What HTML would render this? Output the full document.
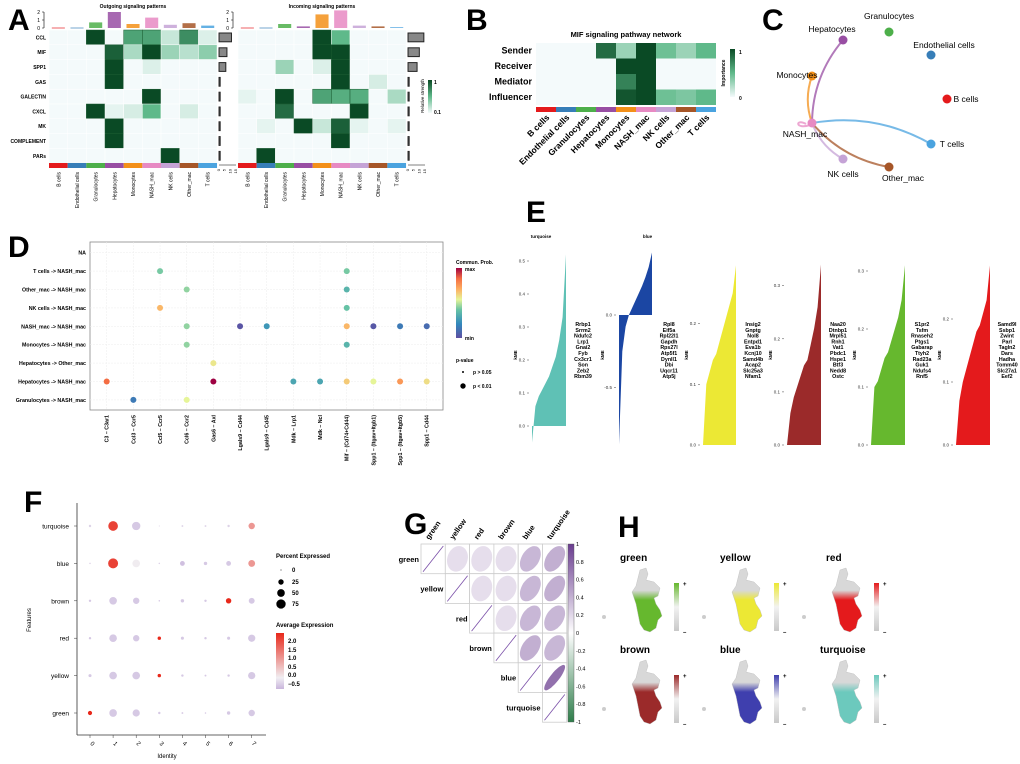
<!DOCTYPE html>
<html><head><meta charset="utf-8"><style>
html,body{margin:0;padding:0;background:#fff}
svg{display:block;font-family:"Liberation Sans",sans-serif}
</style></head><body>
<svg id="fig" width="1020" height="764" viewBox="0 0 1020 764" xmlns="http://www.w3.org/2000/svg">
<defs>
<linearGradient id="gA" x1="0" y1="1" x2="0" y2="0"><stop offset="0" stop-color="#f4fafb"/><stop offset="0.5" stop-color="#5fb98a"/><stop offset="1" stop-color="#0a4a25"/></linearGradient>
<linearGradient id="gSpec" x1="0" y1="1" x2="0" y2="0"><stop offset="0" stop-color="#5e4fa2"/><stop offset="0.2" stop-color="#3288bd"/><stop offset="0.4" stop-color="#66c2a5"/><stop offset="0.55" stop-color="#e6f598"/><stop offset="0.7" stop-color="#fdae61"/><stop offset="0.85" stop-color="#f46d43"/><stop offset="1" stop-color="#9e0142"/></linearGradient>
<linearGradient id="gF" x1="0" y1="1" x2="0" y2="0"><stop offset="0" stop-color="#c9b6dc"/><stop offset="0.2" stop-color="#f0eef2"/><stop offset="1" stop-color="#e8281a"/></linearGradient>
<linearGradient id="gG" x1="0" y1="1" x2="0" y2="0"><stop offset="0" stop-color="#2e7d4a"/><stop offset="0.5" stop-color="#ffffff"/><stop offset="1" stop-color="#6a3d8f"/></linearGradient>
</defs>
</svg>
<script>
// ---------- data ----------
const cellTypes=['B cells','Endothelial cells','Granulocytes','Hepatocytes','Monocytes','NASH_mac','NK cells','Other_mac','T cells'];
const cellColors=['#e41a1c','#377eb8','#4daf4a','#984ea3','#f39019','#e78ac3','#c5a3d6','#a65628','#4aa3df'];
const pathways=['CCL','MIF','SPP1','GAS','GALECTIN','CXCL','MK','COMPLEMENT','PARs'];
const outMat=[[0,0,1,0,.6,.6,.15,.7,.08],[0,0,0,.9,.25,1,.3,.2,.35],[0,0,0,1,0,.08,0,0,0],[0,0,0,1,0,0,0,0,0],[0,0,0,0,0,1,0,0,0],[0,0,1,.05,.1,.5,0,.1,0],[0,0,0,1,0,0,0,0,0],[0,0,0,1,0,0,0,0,0],[0,0,0,0,0,0,1,0,0]];
const inMat=[[0,0,0,0,1,.5,0,0,0],[0,0,0,0,1,1,0,0,0],[0,0,.3,0,.08,1,0,0,0],[0,0,0,0,0,1,0,.1,0],[.05,0,1,0,.6,.55,.55,0,.25],[0,0,.85,0,0,0,1,0,0],[0,.05,0,1,.15,.9,.05,0,.05],[0,0,0,0,0,1,0,0,0],[0,1,0,0,0,0,0,0,0]];
const outTop=[.05,.05,.7,2,.5,1.3,.4,.6,.3];
const inTop=[.05,.05,.5,.2,1.7,2.2,.3,.2,.1];
const outSide=[11,7,6,1,1,1,1,1,1];
const inSide=[14,10,8,1,1,1,1,1,1];
const rolesB=['Sender','Receiver','Mediator','Influencer'];
const matB=[[0,0,0,.85,.3,1,.45,.3,.5],[0,0,0,0,1,1,0,0,0],[0,0,0,0,.75,1,0,0,0],[0,0,0,0,.95,1,.45,.4,.5]];
const edgeSourcesC=['Hepatocytes','Monocytes','NK cells','Other_mac','T cells','NASH_mac'];
const edgeBendC=[1,1,-1,-1,1,0];
const rowsD=['NA','T cells -> NASH_mac','Other_mac -> NASH_mac','NK cells -> NASH_mac','NASH_mac -> NASH_mac','Monocytes -> NASH_mac','Hepatocytes -> Other_mac','Hepatocytes -> NASH_mac','Granulocytes -> NASH_mac'];
const colsD=['C3 \u2013 C3ar1','Ccl3 \u2013 Ccr5','Ccl5 \u2013 Ccr5','Ccl6 \u2013 Ccr2','Gas6 \u2013 Axl','Lgals9 \u2013 Cd44','Lgals9 \u2013 Cd45','Mdk \u2013 Lrp1','Mdk \u2013 Ncl','Mif \u2013 (Cd74+Cd44)','Spp1 \u2013 (Itgav+Itgb1)','Spp1 \u2013 (Itgav+Itgb5)','Spp1 \u2013 Cd44'];
const ptRow=[1,1,2,2,3,3,4,4,4,4,4,4,4,5,5,6,7,7,7,7,7,7,7,7,8,8];
const ptCol=[2,9,3,9,2,9,3,5,6,9,10,11,12,3,9,4,0,4,7,8,9,10,11,12,1,3];
const ptProb=[.42,.42,.45,.35,.68,.4,.45,.02,.25,.68,.03,.15,.1,.45,.35,.58,.85,1,.3,.3,.64,.55,.75,.6,.15,.55];
const modulesE=['turquoise','blue','yellow','brown','green','red'];
const colorsE=['#5fc1b5','#1b46a3','#ece834','#9b2a2a','#66b82e','#e41a1c'];
const kmeTurquoise=[-0.05,0.06,0.09,0.11,0.13,0.15,0.18,0.21,0.26,0.33,0.52];
const kmeBlue=[-0.89,-0.25,-0.08,0.0,0.05,0.1,0.15,0.2,0.26,0.33,0.43];
const kmeYellow=[0,0.1,0.12,0.14,0.15,0.17,0.19,0.21,0.23,0.25,0.296];
const kmeBrown=[0,0.06,0.09,0.11,0.13,0.15,0.16,0.19,0.22,0.26,0.34];
const kmeGreen=[0,0.1,0.11,0.13,0.15,0.16,0.18,0.2,0.22,0.25,0.31];
const kmeRed=[0,0.07,0.1,0.12,0.14,0.16,0.18,0.19,0.21,0.23,0.285];
const genesE=[['Rrbp1','Srrm2','Ndufc2','Lrp1','Gnai2','Fyb','Cx3cr1','Son','Zeb2','Rbm39'],['Rpl8','Eif5a','Rpl22l1','Gapdh','Rps27l','Atp5f1','Dynll1','Dbi','Uqcr11','Atp5j'],['Insig2','Gnptg','Nol8','Entpd1','Eva1b','Kcnj10','Samd4b','Acap2','Slc25a3','Nfam1'],['Naa20','Dtnbp1','Mrpl51','Rnh1','Vat1','Pbdc1','Hspe1','Btf3','Nedd8','Ostc'],['S1pr2','Tsfm','Rnaseh2','Ptgs1','Gabarap','Ttyh2','Rad23a','Guk1','Ndufs4','Rnf5'],['Samd9l','Ssbp1','Zwint','Parl','Tagln2','Dars','Hadha','Tomm40','Slc27a1','Eef2']];
const ticksE=[[0,.1,.2,.3,.4,.5],[-0.5,0],[0,.1,.2],[0,.1,.2,.3],[0,.1,.2,.3],[0,.1,.2]];
const featuresF=['turquoise','blue','brown','red','yellow','green'];
const identF=['0','1','2','3','4','5','6','7'];
const pctF=[[5,80,60,1,3,3,5,35],[2,85,50,2,20,10,20,40],[5,50,35,2,10,5,25,30],[5,50,35,10,8,5,8,45],[8,50,50,10,5,3,5,45],[15,50,45,5,3,2,10,35]];
const avgF=[[-.3,2.0,-.4,-.3,-.3,-.3,-.3,1.0],[-.3,2.0,0.0,-.3,-.5,-.4,-.4,1.0],[-.4,-.4,-.4,-.4,-.4,-.4,2.5,-.4],[-.4,-.4,-.4,2.5,-.4,-.4,-.4,-.4],[-.4,-.4,-.4,2.5,-.4,-.4,-.4,-.4],[2.5,-.4,-.4,-.4,-.4,-.4,-.4,-.4]];
const modulesG=['green','yellow','red','brown','blue','turquoise'];
const corrG=[[1,.15,.15,.15,.4,.45],[.15,1,.15,.15,.4,.45],[.15,.15,1,.15,.4,.4],[.15,.15,.15,1,.45,.4],[.4,.4,.4,.45,1,.85],[.45,.45,.4,.4,.85,1]];
const modulesH=['green','yellow','red','brown','blue','turquoise'];
const colorsH=['#66b82e','#ece834','#e41a1c','#9b2a2a','#3f3fae','#6cc9bd'];

// ---------- helpers ----------
const NS='http://www.w3.org/2000/svg';
const svg=document.getElementById('fig');
function el(tag,attrs,parent){const e=document.createElementNS(NS,tag);for(const k in attrs)e.setAttribute(k,attrs[k]);(parent||svg).appendChild(e);return e;}
function txt(x,y,s,attrs,parent){const t=el('text',Object.assign({x:x,y:y},attrs||{}),parent);t.textContent=s;return t;}
function hex2rgb(h){return [1,3,5].map(i=>parseInt(h.substr(i,2),16));}
function interp(stops,t){t=Math.max(0,Math.min(1,t));for(let i=1;i<stops.length;i++){if(t<=stops[i][0]){const a=stops[i-1],b=stops[i];const f=(t-a[0])/(b[0]-a[0]||1);const c1=hex2rgb(a[1]),c2=hex2rgb(b[1]);return 'rgb('+c1.map((v,k)=>Math.round(v+(c2[k]-v)*f)).join(',')+')';}}return stops[stops.length-1][1];}
const greenStops=[[0,'#f4fafb'],[0.5,'#5fb98a'],[1,'#0a4a25']];
const specStops=[[0,'#5e4fa2'],[0.2,'#3288bd'],[0.4,'#66c2a5'],[0.55,'#e6f598'],[0.7,'#fdae61'],[0.85,'#f46d43'],[1,'#9e0142']];
const fStops=[[0,'#c9b6dc'],[0.2,'#f0eef2'],[1,'#e8281a']];
const purpleStops=[[0,'#ffffff'],[1,'#6a3d8f']];
function letter(x,y,s){const t=txt(x,y,s,{'font-size':30,'font-weight':'bold'});}

// ---------- Panel A ----------
letter(8,30,'A');
function heat(x0,mat,top,side,title,showRows,nm){
  const cw=18.67,rh=14.8,y0=30;
  const g=el('g',{});
  
  
  txt(x0+cw*4.5,8,title,{'font-size':5,'text-anchor':'middle','font-weight':'bold'},g);
  el('line',{x1:x0-5,y1:12,x2:x0-5,y2:28,stroke:'#000','stroke-width':0.6},g);
  [0,1,2].forEach(v=>{const yy=28-v*8;el('line',{x1:x0-7,y1:yy,x2:x0-5,y2:yy,stroke:'#000','stroke-width':0.5},g);txt(x0-9,yy+2,String(v),{'font-size':5,'text-anchor':'end'},g);});
  top.forEach((v,i)=>{const r=el('rect',{x:x0+i*cw+cw*0.15,y:28-v*8,width:cw*0.7,height:Math.max(v*8,0.8),fill:cellColors[i],opacity:0.85},g);});
  mat.forEach((row,r)=>{
    if(showRows)txt(x0-3,y0+r*rh+rh/2+2,pathways[r],{'font-size':5,'text-anchor':'end','font-weight':'bold'},g);
    row.forEach((v,c)=>{const rc=el('rect',{x:x0+c*cw,y:y0+r*rh,width:cw,height:rh,fill:interp(greenStops,v),stroke:v>0.5?'#1a5a30':'#fff','stroke-width':0.5},g);});
    const sv=side[r];const sx=x0+9*cw+2;
    const sb=el('rect',{x:sx,y:y0+r*rh+3,width:sv*1.13,height:rh-6,fill:'#888',stroke:'#222','stroke-width':1},g);
    
    
  });
  const ax=x0+9*cw+2;
  el('line',{x1:ax,y1:165,x2:ax+17,y2:165,stroke:'#000','stroke-width':0.5},g);
  [0,5,10,15].forEach(v=>{txt(ax+v*1.13+1,169,String(v),{'font-size':4,transform:'rotate(-90 '+(ax+v*1.13+1)+' 169)','text-anchor':'end'},g);});
  cellTypes.forEach((c,i)=>{el('rect',{x:x0+i*cw,y:163,width:cw,height:5,fill:cellColors[i]},g);const cx=x0+i*cw+cw/2+2;txt(cx,172,c,{'font-size':5,'text-anchor':'end',transform:'rotate(-90 '+cx+' 172)'},g);});
}
heat(49,outMat,outTop,outSide,'Outgoing signaling patterns',true,'outgoing-heatmap');
heat(238,inMat,inTop,inSide,'Incoming signaling patterns',false,'incoming-heatmap');
el('rect',{x:428,y:80,width:4,height:33,fill:'url(#gA)'});
txt(434,84,'1',{'font-size':5,'font-weight':'bold'});txt(434,114,'0.1',{'font-size':5,'font-weight':'bold'});
txt(424,96,'Relative strength',{'font-size':4.5,'text-anchor':'middle',transform:'rotate(-90 424 96)'});

// ---------- Panel B ----------
letter(466,30,'B');
txt(626,37,'MIF signaling pathway network',{'font-size':7.5,'font-weight':'bold','text-anchor':'middle'});
matB.forEach((row,r)=>{
  txt(532,43+r*15.5+10.5,rolesB[r],{'font-size':9,'font-weight':'bold','text-anchor':'end'});
  row.forEach((v,c)=>{const rc=el('rect',{x:536+c*20,y:43+r*15.5,width:20,height:15.5,fill:interp(greenStops,v)});});
});
cellTypes.forEach((c,i)=>{el('rect',{x:536+i*20,y:107,width:20,height:5,fill:cellColors[i]});const cx=536+i*20+14;txt(cx,118,c,{'font-size':8.5,'font-weight':'bold','text-anchor':'end',transform:'rotate(-45 '+cx+' 118)'});});
el('rect',{x:730,y:49,width:5,height:48,fill:'url(#gA)'});
txt(739,54,'1',{'font-size':5,'font-weight':'bold'});txt(739,100,'0',{'font-size':5,'font-weight':'bold'});
txt(725,73,'Importance',{'font-size':5,'font-weight':'bold','text-anchor':'middle',transform:'rotate(-90 725 73)'});

// ---------- Panel C ----------
letter(762,30,'C');
const nodePos={'Hepatocytes':[843,40,832,32],'Granulocytes':[889,32,889,19],'Endothelial cells':[931,55,944,48],'Monocytes':[812,76,797,78],'B cells':[947,99,966,102],'NASH_mac':[812,123,805,137],'T cells':[931,144,952,147],'NK cells':[843,159,843,177],'Other_mac':[889,167,903,181]};
edgeSourcesC.forEach((s,k)=>{
  const p=nodePos[s],t=nodePos['NASH_mac'];const col=cellColors[cellTypes.indexOf(s)];
  let d;
  if(s==='NASH_mac'){d='M806,124 C795,118 795,130 810,125';}
  else{const b=edgeBendC[k]*0.18;const mx=(p[0]+t[0])/2,my=(p[1]+t[1])/2;const dx=p[0]-t[0],dy=p[1]-t[1];d='M'+p[0]+','+p[1]+' Q'+(mx+dy*b)+','+(my-dx*b)+' '+t[0]+','+t[1];}
  const e=el('path',{d:d,fill:'none',stroke:col,'stroke-width':2,opacity:0.75});
  
  
});
cellTypes.forEach((c,i)=>{const p=nodePos[c];const n=el('circle',{cx:p[0],cy:p[1],r:4.5,fill:cellColors[i]});txt(p[2],p[3],c,{'font-size':8.5,'text-anchor':'middle'});});

// ---------- Panel D ----------
letter(8,257,'D');
const dx0=90,dy0=242,dx1=443,dy1=410;
const colX=i=>106.7+i*26.67, rowY=i=>252.7+i*18.4;
el('rect',{x:dx0,y:dy0,width:dx1-dx0,height:dy1-dy0,fill:'#fff',stroke:'#888','stroke-width':0.8});
rowsD.forEach((r,i)=>{el('line',{x1:dx0,y1:rowY(i),x2:dx1,y2:rowY(i),stroke:'#eee','stroke-width':0.5,'stroke-dasharray':'2,1'});txt(86,rowY(i)+2,r,{'font-size':5.3,'font-weight':'bold','text-anchor':'end'});});
colsD.forEach((c,i)=>{el('line',{x1:colX(i),y1:dy0,x2:colX(i),y2:dy1,stroke:'#eee','stroke-width':0.5,'stroke-dasharray':'2,1'});const x=colX(i)+2;txt(x,415,c,{'font-size':5.3,'font-weight':'bold','text-anchor':'end',transform:'rotate(-90 '+x+' 415)'});});
ptRow.forEach((r,k)=>{const c=el('circle',{cx:colX(ptCol[k]),cy:rowY(r),r:3,fill:interp(specStops,ptProb[k])});});
txt(456,264,'Commun. Prob.',{'font-size':5,'font-weight':'bold'});
el('rect',{x:456,y:268,width:6,height:70,fill:'url(#gSpec)'});
txt(465,271,'max',{'font-size':5,'font-weight':'bold'});txt(465,340,'min',{'font-size':5,'font-weight':'bold'});
txt(456,362,'p-value',{'font-size':5,'font-weight':'bold'});
el('circle',{cx:463,cy:372,r:1});txt(473,374,'p > 0.05',{'font-size':5,'font-weight':'bold'});
el('circle',{cx:463,cy:386,r:2.7});txt(473,388,'p < 0.01',{'font-size':5,'font-weight':'bold'});

// ---------- Panel E ----------
letter(526,222,'E');
const kmeAll=[kmeTurquoise,kmeBlue,kmeYellow,kmeBrown,kmeGreen,kmeRed];
const layE=[[532,566,426,330],[619,652,315,145.4],[703,736,445,607],[787,821,445,531],[871,905,445,580],[956,990,445,630]];
kmeAll.forEach((arr,m)=>{
  const [x0,x1,z,s]=layE[m];
  const yv=v=>z-v*s;
  let pts=[[x0,z]];arr.forEach((v,i)=>pts.push([x0+i/(arr.length-1)*(x1-x0),yv(v)]));pts.push([x1,yv(arr[arr.length-1])]);pts.push([x1,z]);
  const p=el('polygon',{points:pts.map(q=>q.join(',')).join(' '),fill:colorsE[m]});
  
  
  ticksE[m].forEach(t=>{el('line',{x1:x0-5,y1:yv(t),x2:x0-3,y2:yv(t),stroke:'#444','stroke-width':0.5});txt(x0-7,yv(t)+1.5,t.toFixed(1),{'font-size':4.5,'text-anchor':'end',fill:'#333'});});
  txt(x0-15,355,'kME',{'font-size':4.5,'font-weight':'bold','text-anchor':'middle',transform:'rotate(-90 '+(x0-15)+' 355)'});
  genesE[m].forEach((gn,i)=>txt(x1+17,326+i*5.8,gn,{'font-size':5.3,'font-weight':'bold','text-anchor':'middle'}));
  if(m<2)txt((x0+x1)/2-(m===0?8:-12),238,modulesE[m],{'font-size':4.5,'font-weight':'bold','text-anchor':'middle'});
});

// ---------- Panel F ----------
letter(24,512,'F');
const fx=i=>90+i*23.1, fy=i=>526+i*37.4;
el('line',{x1:77,y1:503,x2:77,y2:735,stroke:'#333','stroke-width':0.8});
el('line',{x1:77,y1:735,x2:266,y2:735,stroke:'#333','stroke-width':0.8});
featuresF.forEach((f,r)=>{txt(69,fy(r)+2.5,f,{'font-size':6.5,'text-anchor':'end'});el('line',{x1:74,y1:fy(r),x2:77,y2:fy(r),stroke:'#333','stroke-width':0.5});
  pctF[r].forEach((p,c)=>{const d=el('circle',{cx:fx(c),cy:fy(r),r:Math.max(0.5,5.4*Math.sqrt(p/100)),fill:interp(fStops,(avgF[r][c]+0.6)/2.9)});});});
identF.forEach((s,i)=>{el('line',{x1:fx(i),y1:735,x2:fx(i),y2:738,stroke:'#333','stroke-width':0.5});txt(fx(i)+1,745,s,{'font-size':6,'text-anchor':'middle',transform:'rotate(45 '+(fx(i)+1)+' 745)'});});
txt(167,758,'Identity',{'font-size':6,'text-anchor':'middle'});
txt(31,620,'Features',{'font-size':6,'text-anchor':'middle',transform:'rotate(-90 31 620)'});
txt(276,558,'Percent Expressed',{'font-size':6,'font-weight':'bold'});
[[0,570],[25,582],[50,593],[75,604]].forEach(q=>{el('circle',{cx:281,cy:q[1],r:Math.max(0.5,5.4*Math.sqrt(q[0]/100))});txt(292,q[1]+2,String(q[0]),{'font-size':6,'font-weight':'bold'});});
txt(276,627,'Average Expression',{'font-size':6,'font-weight':'bold'});
el('rect',{x:276,y:633,width:8,height:56,fill:'url(#gF)'});
[['2.0',643],['1.5',652],['1.0',660],['0.5',669],['0.0',677],['\u22120.5',686]].forEach(q=>txt(288,q[1],q[0],{'font-size':6,'font-weight':'bold'}));

// ---------- Panel G ----------
letter(404,534,'G');
const gw=24.3,gh=29.7,gx0=421,gy0=544;
modulesG.forEach((m,r)=>{
  const lx=gx0+r*gw-2;
  txt(lx,gy0+r*gh+gh/2+3,m,{'font-size':7.5,'font-weight':'bold','text-anchor':'end'});
  const cx=gx0+r*gw+gw/2;txt(cx-4,540,m,{'font-size':7.5,'font-weight':'bold',transform:'rotate(-55 '+(cx-4)+' 540)'});
  for(let c=r;c<6;c++){
    const x=gx0+c*gw,y=gy0+r*gh;
    el('rect',{x:x,y:y,width:gw,height:gh,fill:'#fff',stroke:'#ccc','stroke-width':0.8});
    if(c===r){el('line',{x1:x+2,y1:y+gh-2,x2:x+gw-2,y2:y+2,stroke:'#7a4fa8','stroke-width':0.8});continue;}
    const v=corrG[r][c],d=Math.acos(v);let pts=[];
    for(let k=0;k<40;k++){const t=k/40*2*Math.PI;pts.push([(x+gw/2+Math.cos(t+d/2)*gw*0.43).toFixed(1),(y+gh/2-Math.cos(t-d/2)*gh*0.43).toFixed(1)]);}
    const e=el('polygon',{points:pts.map(q=>q.join(',')).join(' '),fill:interp(purpleStops,v*0.8+0.05)});
    
    
  }
});
el('rect',{x:568,y:544,width:6,height:178,fill:'url(#gG)',stroke:'#555','stroke-width':0.4});
[1,.8,.6,.4,.2,0,-.2,-.4,-.6,-.8,-1].forEach(v=>{const y=544+(1-v)/2*178;txt(576,y+2,String(v),{'font-size':5.5});});

// ---------- Panel H ----------
letter(618,537,'H');
const blob=[[8,2],[14,0],[16,6],[14,12],[22,14],[28,20],[26,28],[22,30],[24,36],[28,42],[30,48],[26,52],[24,60],[18,64],[12,62],[8,56],[6,46],[4,36],[2,30],[0,24],[4,18],[6,10]];
modulesH.forEach((m,i)=>{
  const ox=(i%3)*100,oy=Math.floor(i/3)*92;
  const t=txt(620+ox+(i===2?6:0),561+oy,m,{'font-size':10,'font-weight':'bold'});
  
  
  const gid='gh'+i;const lg=el('linearGradient',{id:gid,x1:0,y1:0,x2:0,y2:1},svg.querySelector('defs'));
  el('stop',{offset:0,'stop-color':'#d8d8d8'},lg);el('stop',{offset:0.35,'stop-color':'#d8d8d8'},lg);el('stop',{offset:0.5,'stop-color':colorsH[i]},lg);el('stop',{offset:1,'stop-color':colorsH[i]},lg);
  const bx=632+ox,by=568+oy;
  const b=el('polygon',{points:blob.map(q=>(bx+q[0])+','+(by+q[1])).join(' '),fill:'url(#'+gid+')',stroke:'#bbb','stroke-width':0.4});
  
  
  el('circle',{cx:604+ox,cy:617+oy,r:2,fill:'#ccc'});
  const cg='ghc'+i;const lg2=el('linearGradient',{id:cg,x1:0,y1:1,x2:0,y2:0},svg.querySelector('defs'));
  el('stop',{offset:0,'stop-color':'#c8c8c8'},lg2);el('stop',{offset:0.5,'stop-color':'#f2f2f2'},lg2);el('stop',{offset:1,'stop-color':colorsH[i]},lg2);
  el('rect',{x:674+ox,y:583+oy,width:5,height:48,fill:'url(#'+cg+')'});
  txt(683+ox,586+oy,'+',{'font-size':6,'font-weight':'bold'});txt(683+ox,634+oy,'\u2013',{'font-size':6,'font-weight':'bold'});
});
</script>
</body></html>
